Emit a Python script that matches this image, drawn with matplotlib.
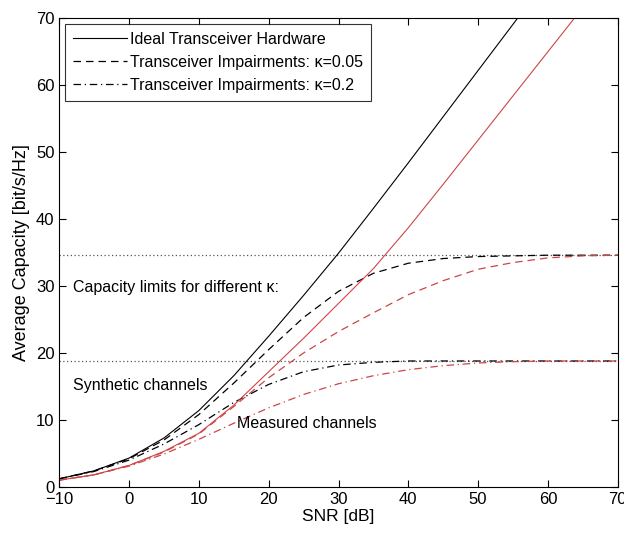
import matplotlib.pyplot as plt

plt.rcParams['font.family'] = ['Liberation Sans', 'DejaVu Sans']

snr_db = [-10, -5, 0, 5, 10, 15, 20, 25, 30, 35, 40, 45, 50, 55, 60, 65, 70]

# synthetic channels (black)
ideal_syn = [1.2, 2.4, 4.3, 7.3, 11.4, 16.6, 22.5, 28.6, 34.9, 41.6, 48.4,
             55.3, 62.2, 69.1, 76.0, 82.9, 89.8]
k005_syn = [1.2, 2.4, 4.2, 7.0, 10.8, 15.5, 20.5, 25.3, 29.2, 31.9, 33.4,
            34.1, 34.4, 34.5, 34.6, 34.6, 34.6]
k02_syn = [1.2, 2.3, 4.0, 6.4, 9.3, 12.6, 15.3, 17.2, 18.2, 18.6, 18.8,
           18.8, 18.8, 18.8, 18.8, 18.8, 18.8]

# measured channels (red)
ideal_meas = [1.0, 1.8, 3.2, 5.3, 8.0, 12.2, 17.2, 22.2, 27.4, 32.6, 38.7,
              45.2, 51.8, 58.4, 65.0, 71.6, 78.2]
k005_meas = [1.0, 1.8, 3.2, 5.2, 7.9, 12.0, 16.3, 20.0, 23.2, 26.0, 28.7,
             30.8, 32.5, 33.5, 34.2, 34.5, 34.6]
k02_meas = [1.0, 1.8, 3.1, 4.9, 7.1, 9.5, 11.8, 13.8, 15.4, 16.6, 17.5,
            18.1, 18.5, 18.7, 18.8, 18.8, 18.8]

limits = [34.6, 18.8]

legend_labels = ["Ideal Transceiver Hardware",
                 "Transceiver Impairments: \u03ba=0.05",
                 "Transceiver Impairments: \u03ba=0.2"]

red = "#cc4646"

fig = plt.figure(figsize=(6.24, 5.35), dpi=100)
ax = fig.add_axes([0.095, 0.09, 0.895, 0.876])

for lim in limits:
    ax.axhline(lim, color="#555555", ls=(0, (1, 2)), lw=0.9)

h1, = ax.plot(snr_db, ideal_syn, color="k", lw=0.8)
h2, = ax.plot(snr_db, k005_syn, color="k", ls=(0, (6, 4)), lw=0.9)
h3, = ax.plot(snr_db, k02_syn, color="k", ls=(0, (6, 3, 1, 3)), lw=0.9)
ax.plot(snr_db, ideal_meas, color=red, lw=0.8)
ax.plot(snr_db, k005_meas, color=red, ls=(0, (6, 4)), lw=0.9)
ax.plot(snr_db, k02_meas, color=red, ls=(0, (6, 3, 1, 3)), lw=0.9)

ax.text(-8, 29.8, "Capacity limits for different \u03ba:", fontsize=11.5,
        va="center")
ax.text(-8, 15.1, "Synthetic channels", fontsize=11.5, va="center")
ax.text(15.5, 9.4, "Measured channels", fontsize=11.5, va="center")

leg = ax.legend([h1, h2, h3], legend_labels, loc="upper left", fontsize=11.5,
                frameon=True, fancybox=False, edgecolor="k",
                handlelength=3.4, handletextpad=0.2, borderaxespad=0.35,
                labelspacing=0.5, borderpad=0.5)
leg.get_frame().set_linewidth(0.8)

ax.set_xlim(-10, 70)
ax.set_ylim(0, 70)
ax.set_xticks(range(-10, 71, 10))
ax.set_yticks(range(0, 71, 10))
ax.tick_params(direction="in", top=True, right=True, labelsize=12, length=5)
ax.set_xlabel("SNR [dB]", fontsize=12.5, labelpad=2)
ax.set_ylabel("Average Capacity [bit/s/Hz]", fontsize=13, labelpad=4)

fig.savefig("out.png", dpi=100)
